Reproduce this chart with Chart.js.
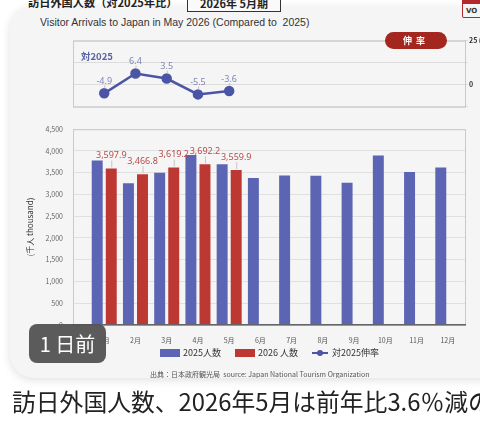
<!DOCTYPE html>
<html lang="ja">
<head>
<meta charset="UTF-8">
<title>訪日外国人数（対2025年比）</title>
<style>
  body { margin:0; width:480px; height:425px; overflow:hidden; background:#fff; position:relative;
         font-family:"Noto Sans CJK JP","Noto Sans",sans-serif; }
  .card { position:absolute; left:10px; top:6px; width:500px; height:372px; background:#f5f5f5;
          border-radius:24px; box-shadow:0 2px 10px rgba(0,0,0,0.13); }
  .abs { position:absolute; white-space:nowrap; }
  #head { left:28px; top:-6px; font-size:11.2px; font-weight:bold; color:#222; }
  #period { left:187px; top:-6px; width:92px; height:17px; border:1.5px solid #333; border-top:none;
            font-size:11px; font-weight:bold; text-align:center; line-height:19px; color:#222; background:#fafafa; }
  #vo { left:462px; top:-2px; width:22px; height:20px; border:1.5px solid #b3282d; border-top:6px solid #b3282d;
        border-radius:2px; font:bold 7px "DejaVu Sans",sans-serif; color:#333; padding-left:3px; line-height:14px; box-sizing:border-box; }
  #sub { left:40px; top:16px; font:10.5px "Liberation Sans",Arial,sans-serif; color:#333; }
  #pill { left:385px; top:32px; width:62px; height:17px; border-radius:9px; background:#a3261f; color:#fff;
          font-size:9px; font-weight:bold; text-align:center; line-height:17px; letter-spacing:4px; z-index:2; }
  #vs { left:81px; top:49px; font-size:9.5px; font-weight:bold; color:#5a62a8; z-index:2; }
  #top { left:0; top:30px; }
  #bottom { left:0; top:115px; }
  #legend { left:160px; top:346px; display:flex; align-items:center; font-size:9px; color:#333; }
  #legend .item { display:flex; align-items:center; margin-right:14px; }
  #legend .box { width:20px; height:8px; margin-right:3px; }
  #legend .ln { position:relative; width:16px; height:8px; margin-right:4px; }
  #legend .ln i { position:absolute; left:0; top:3px; width:16px; height:2px; }
  #legend .ln b { position:absolute; left:5px; top:1px; width:6px; height:6px; border-radius:50%; }
  #src { left:150px; top:369px; height:9px; overflow:hidden; font-size:7px; color:#555; line-height:10px; }
  #badge { left:29px; top:324px; width:77px; height:39px; border-radius:8px; background:rgba(84,84,84,0.96);
           color:#fff; font-size:20px; text-align:center; line-height:39px; z-index:3; }
  #caption { left:12px; top:389px; font:23.8px/1 "Noto Sans CJK JP",sans-serif; color:#222; }
</style>
</head>
<body>
<div class="card"></div>
<div class="abs" id="head">訪日外国人数（対2025年比）</div>
<div class="abs" id="period">2026年 5月期</div>
<div class="abs" id="vo">VO</div>
<div class="abs" id="sub">Visitor Arrivals to Japan in May 2026 (Compared to&nbsp; 2025)</div>
<div class="abs" id="pill">伸率</div>
<div class="abs" id="vs">対2025</div>
<canvas class="abs" id="top" width="480" height="85"></canvas>
<canvas class="abs" id="bottom" width="480" height="235"></canvas>
<div class="abs" id="legend"></div>
<div class="abs" id="src">出典：日本政府観光局&nbsp; source: Japan National Tourism Organization</div>
<div class="abs" id="badge">1 日前</div>
<div class="abs" id="caption">訪日外国人数、2026年5月は前年比3.6％減の</div>

<script src="https://cdn.jsdelivr.net/npm/chart.js"></script>
<script>
  // data (thousand visitors / % change)
  const months = ['1月', '2月', '3月', '4月', '5月', '6月', '7月', '8月', '9月', '10月', '11月', '12月'];
  const visitors2025 = [3781.6, 3258.1, 3497.6, 3908.9, 3693.3, 3377.8, 3437.0, 3428.0, 3266.8, 3896.3, 3518.0, 3617.7];
  const visitors2026 = [3597.9, 3466.8, 3619.2, 3692.2, 3559.9];
  const growthVs2025 = [-4.9, 6.4, 3.5, -5.5, -3.6];
  const seriesNames = ['2025人数', '2026 人数', '対2025伸率'];
  const countTicks = [0, 500, 1000, 1500, 2000, 2500, 3000, 3500, 4000, 4500];
  const rateTicks = [-12.5, 0, 12.5, 25];
  const rateTickLabels = { 0: '0', 25: '25 (%)' };

  const BLUE = '#5b65b4', RED = '#bd3832', LINE = '#4b55a5';

  Chart.defaults.font.family = '"Noto Sans CJK JP", "Noto Sans", sans-serif';
  Chart.defaults.animation = false;

  const toPoints = arr => arr.map((v, i) => ({ x: i + 1, y: v }));

  // light frame around the plot area
  const frame = {
    id: 'frame',
    beforeDatasetsDraw(chart) {
      const { ctx, chartArea: a } = chart;
      ctx.save();
      ctx.strokeStyle = '#c9c9c9';
      ctx.lineWidth = 1;
      ctx.strokeRect(a.left + 0.5, a.top + 0.5, a.right - a.left, a.bottom - a.top);
      ctx.restore();
    }
  };

  // value labels with small leader line
  function labelPlugin(id, dsIndex, values, fmt, color, gap) {
    return {
      id: id,
      afterDatasetsDraw(chart) {
        const ctx = chart.ctx;
        const meta = chart.getDatasetMeta(dsIndex);
        ctx.save();
        meta.data.forEach((el, i) => {
          if (values[i] == null) return;
          ctx.strokeStyle = '#c4c4c4';
          ctx.lineWidth = 1;
          ctx.beginPath();
          ctx.moveTo(el.x + 0.5, el.y - gap[0]);
          ctx.lineTo(el.x + 0.5, el.y - gap[1]);
          ctx.stroke();
          ctx.fillStyle = color;
          ctx.font = '9px "Noto Sans", sans-serif';
          ctx.textAlign = 'center';
          ctx.textBaseline = 'middle';
          ctx.fillText(fmt(values[i]), el.x, el.y - gap[2]);
        });
        ctx.restore();
      }
    };
  }

  // top: growth rate line
  new Chart(document.getElementById('top'), {
    type: 'line',
    data: {
      datasets: [{
        label: seriesNames[2],
        data: toPoints(growthVs2025),
        borderColor: LINE,
        backgroundColor: LINE,
        borderWidth: 2.5,
        pointRadius: 4,
        pointBackgroundColor: LINE,
        tension: 0,
        clip: false
      }]
    },
    options: {
      responsive: false,
      layout: { padding: { left: 73, right: 0, top: 10.7, bottom: 8.3 } },
      plugins: { legend: { display: false }, tooltip: { enabled: false } },
      scales: {
        x: { type: 'linear', min: 0, max: 12.55, display: false },
        y: {
          position: 'right', min: -12.5, max: 25,
          afterBuildTicks: ax => { ax.ticks = rateTicks.map(v => ({ value: v })); },
          ticks: { callback: v => rateTickLabels[v] || '', font: { size: 7, weight: 'bold' }, color: '#333', padding: 1 },
          grid: { color: '#dcdcdc', tickLength: 3 },
          border: { color: '#c4c4c4' },
          afterFit: ax => { ax.width = 15; }
        }
      }
    },
    plugins: [frame, labelPlugin('rateLabels', 0, growthVs2025, v => v.toFixed(1), '#7f86b5', [5, 8, 12])]
  });

  // bottom: visitor bars
  new Chart(document.getElementById('bottom'), {
    type: 'bar',
    data: {
      datasets: [
        { label: seriesNames[0], data: toPoints(visitors2025), backgroundColor: BLUE, categoryPercentage: 0.9, barPercentage: 0.78 },
        { label: seriesNames[1], data: toPoints(visitors2026), backgroundColor: RED, categoryPercentage: 0.9, barPercentage: 0.78 }
      ]
    },
    options: {
      responsive: false,
      layout: { padding: { left: 0, right: 15, top: 13, bottom: 0 } },
      plugins: { legend: { display: false }, tooltip: { enabled: false } },
      scales: {
        x: {
          type: 'linear', min: 0, max: 12.55, offset: false,
          afterBuildTicks: ax => { ax.ticks = months.map((m, i) => ({ value: i + 1 })); },
          ticks: { callback: v => months[Math.round(v) - 1], font: { size: 7 }, color: '#555', padding: 3, autoSkip: false, maxRotation: 0 },
          grid: { display: false },
          border: { display: true, color: '#666', width: 1.5, z: 1 },
          afterFit: ax => { ax.height = 25; }
        },
        y: {
          min: 0, max: 4500,
          afterBuildTicks: ax => { ax.ticks = countTicks.map(v => ({ value: v })); },
          ticks: { callback: v => v.toLocaleString('en-US'), font: { size: 7 }, color: '#666', padding: 10 },
          grid: { color: '#e0e0e0', drawTicks: false },
          border: { color: '#c4c4c4' },
          title: { display: true, text: '(千人 thousand)', font: { size: 8 }, color: '#333', padding: { top: 25, bottom: 0 } },
          afterFit: ax => { ax.width = 73; }
        }
      }
    },
    plugins: [frame, labelPlugin('countLabels', 1, visitors2026,
      v => v.toLocaleString('en-US', { minimumFractionDigits: 1, maximumFractionDigits: 1 }), '#b9494b', [1, 8, 13])]
  });

  // legend
  const legend = document.getElementById('legend');
  legend.innerHTML =
    `<span class="item"><span class="box" style="background:${BLUE}"></span>${seriesNames[0]}</span>` +
    `<span class="item"><span class="box" style="background:${RED}"></span>${seriesNames[1]}</span>` +
    `<span class="item"><span class="ln"><i style="background:${LINE}"></i><b style="background:${LINE}"></b></span>${seriesNames[2]}</span>`;
</script>
</body>
</html>
